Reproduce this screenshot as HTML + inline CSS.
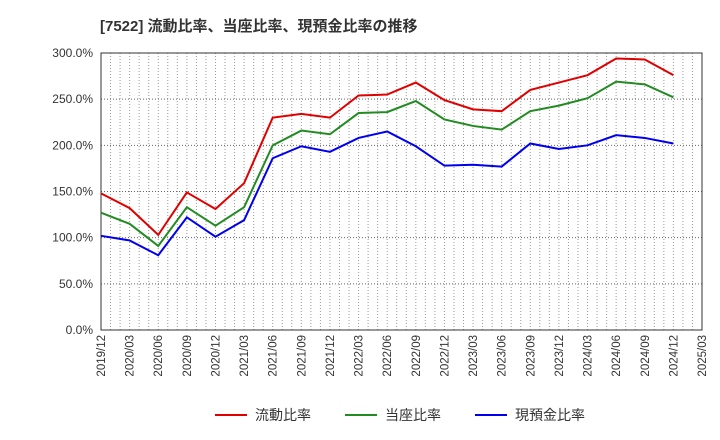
<!DOCTYPE html>
<html><head><meta charset="utf-8"><style>
body{margin:0;background:#fff;}
svg{display:block;font-family:"Liberation Sans","Noto Sans CJK JP",sans-serif;}
</style></head><body>
<svg id="c" width="720" height="440">
<text x="100" y="31" font-size="15" font-weight="bold" fill="#333">[7522]  流動比率、当座比率、現預金比率の推移</text>
</svg>
<script>
const categories=["2019/12","2020/03","2020/06","2020/09","2020/12","2021/03","2021/06","2021/09","2021/12","2022/03","2022/06","2022/09","2022/12","2023/03","2023/06","2023/09","2023/12","2024/03","2024/06","2024/09","2024/12","2025/03"];
const currentRatio=[148,132,103,149,131,159,230,234,230,254,255,268,249,239,237,260,268,276,294,293,276];
const quickRatio=[127,115,91,133,113,133,200,216,212,235,236,248,228,221,217,237,243,251,269,266,252];
const cashRatio=[102,97,81,122,101,119,186,199,193,208,215,199,178,179,177,202,196,200,211,208,202];
const yTicks=[0,50,100,150,200,250,300];
const yTickLabels=["0.0%","50.0%","100.0%","150.0%","200.0%","250.0%","300.0%"];
const svg=document.getElementById('c');const NS='http://www.w3.org/2000/svg';
const L=101,R=702,T=53,B=330;
const xs=i=>L+(R-L)*i/(categories.length-1);
const ys=v=>B-(B-T)*v/300;
function mk(t,a){const e=document.createElementNS(NS,t);for(const k in a)e.setAttribute(k,a[k]);svg.appendChild(e);return e;}
for(let m=1;m<63;m++){const x=L+(R-L)*m/63;
const g=mk('line',{x1:x,x2:x,y1:T,y2:B,stroke:'#999','stroke-dasharray':'1,2','stroke-width':1});

}
yTicks.forEach((v,i)=>{const y=ys(v);
if(v>0){const g=mk('line',{x1:L,x2:R,y1:y,y2:y,stroke:'#666','stroke-dasharray':'1,2'});

}
const t=mk('text',{x:L-8,y:y+4,'text-anchor':'end','font-size':12,fill:'#333'});t.textContent=yTickLabels[i];

});
categories.forEach((c,i)=>{const x=xs(i);const t=mk('text',{transform:`translate(${x+4},${B+5}) rotate(-90)`,'text-anchor':'end','font-size':11.5,fill:'#333'});t.textContent=c;

});
const fr=mk('rect',{x:L,y:T,width:R-L,height:B-T,fill:'none',stroke:'#333'});


const series=[[currentRatio,'#e00000','current-ratio-line'],[quickRatio,'#228b22','quick-ratio-line'],[cashRatio,'#0000ee','cash-ratio-line']];
series.forEach(([d,col,n])=>{const p=mk('polyline',{points:d.map((v,i)=>xs(i)+','+ys(v)).join(' '),fill:'none',stroke:col,'stroke-width':2});

});
const leg=[['流動比率','#e00000',215],['当座比率','#228b22',345],['現預金比率','#0000ee',475]];
leg.forEach(([t,col,x])=>{const l=mk('line',{x1:x,x2:x+32,y1:415,y2:415,stroke:col,'stroke-width':2});


const tx=mk('text',{x:x+40,y:420,'font-size':14,fill:'#333'});tx.textContent=t;

});
</script>
</body></html>
